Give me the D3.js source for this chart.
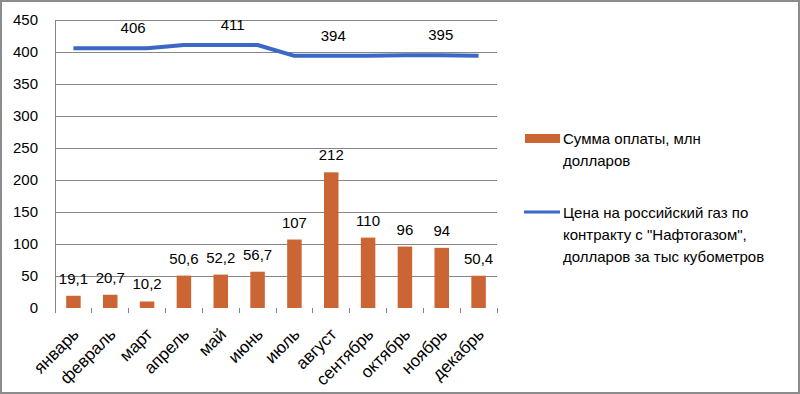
<!DOCTYPE html>
<html><head><meta charset="utf-8">
<script src="https://cdn.jsdelivr.net/npm/d3@7"></script>
<style>
html,body{margin:0;padding:0;background:#fff;}
svg text{font-family:"Liberation Sans","DejaVu Sans",sans-serif;fill:#000;}
</style></head>
<body><svg id="c" width="800" height="394"></svg>
<script>
const months = ["январь","февраль","март","апрель","май","июнь","июль","август","сентябрь","октябрь","ноябрь","декабрь"];
const payments = [19.1,20.7,10.2,50.6,52.2,56.7,107,212,110,96,94,50.4];
const paymentLabels = ["19,1","20,7","10,2","50,6","52,2","56,7","107","212","110","96","94","50,4"];
const prices = [406,406,406,411,411,411,394,394,394,395,395,394];
const priceLabelMonths = ["март","май","август","ноябрь"];
const priceLabelValues = [406,411,394,395];
const yTicks = [0,50,100,150,200,250,300,350,400,450];
const legendPay = ["Сумма оплаты, млн","долларов"];
const legendPrice = ["Цена на российский газ по","контракту с  \"Нафтогазом\",","долларов за тыс кубометров"];

(function(){
const svg = d3.select("#c");
const W=800,H=394;
svg.append("rect").attr("x",1).attr("y",1).attr("width",W-2).attr("height",H-2)
  .attr("fill","#fff").attr("stroke","#8c8c8c").attr("stroke-width",2);

const pL=55,pR=497,pT=20,pB=308;
const x = d3.scaleBand().domain(months).range([pL,pR]).paddingInner(0).paddingOuter(0);
const y = d3.scaleLinear().domain([0,450]).range([pB,pT]);

svg.append("g").selectAll("line").data(yTicks.filter(d=>d>0)).join("line")
  .attr("x1",pL).attr("x2",pR).attr("y1",d=>y(d)).attr("y2",d=>y(d))
  .attr("stroke","#868686").attr("stroke-width",1).attr("shape-rendering","crispEdges");

const ya = svg.append("g").attr("transform",`translate(${pL},0)`)
  .call(d3.axisLeft(y).tickValues(yTicks).tickSize(0).tickPadding(17).tickFormat(d3.format("d")));
ya.select(".domain").attr("stroke","#868686").attr("shape-rendering","crispEdges");
ya.selectAll("text").attr("font-size",15).attr("font-family","Liberation Sans").attr("fill","#000");

const bw = 14.5;
svg.append("g").selectAll("rect").data(payments).join("rect")
  .attr("x",(d,i)=>x(months[i])+x.bandwidth()/2-bw/2)
  .attr("width",bw)
  .attr("y",d=>y(d)).attr("height",d=>pB-y(d))
  .attr("fill","#CB6634");

// category ticks (no horizontal axis line in the original)
svg.append("g").selectAll("line").data(months.concat(["__end"])).join("line")
  .attr("x1",(d,i)=>pL+i*x.bandwidth()).attr("x2",(d,i)=>pL+i*x.bandwidth())
  .attr("y1",pB).attr("y2",pB+5).attr("stroke","#868686").attr("shape-rendering","crispEdges");
svg.append("g").selectAll("text").data(months).join("text")
  .attr("transform",d=>`translate(${x(d)+x.bandwidth()/2-2},${pB+19}) rotate(-45)`)
  .attr("text-anchor","end").attr("dy","0.7em").attr("font-size",17).text(d=>d);

svg.append("g").selectAll("text").data(payments).join("text")
  .attr("x",(d,i)=>x(months[i])+x.bandwidth()/2).attr("y",d=>y(d)-12)
  .attr("text-anchor","middle").attr("font-size",15).text((d,i)=>paymentLabels[i]);

const line = d3.line().x((d,i)=>x(months[i])+x.bandwidth()/2).y(d=>y(d));
svg.append("path").datum(prices).attr("d",line).attr("fill","none")
  .attr("stroke","#3A67C8").attr("stroke-width",4).attr("stroke-linejoin","round");

const lblDx=[-14,12,2,-1];
svg.append("g").selectAll("text").data(priceLabelValues).join("text")
  .attr("x",(d,i)=>x(priceLabelMonths[i])+x.bandwidth()/2+lblDx[i])
  .attr("y",d=>y(d)-15)
  .attr("text-anchor","middle").attr("font-size",15).text(d=>d);

const lg = svg.append("g");
lg.append("rect").attr("x",525).attr("y",134).attr("width",35).attr("height",9).attr("fill","#CB6634");
lg.selectAll("text.p").data(legendPay).join("text").attr("class","p")
  .attr("x",563).attr("y",(d,i)=>144+i*22).attr("font-size",15).text(d=>d);
lg.append("line").attr("x1",524).attr("x2",560).attr("y1",212).attr("y2",212)
  .attr("stroke","#3A67C8").attr("stroke-width",3);
lg.selectAll("text.q").data(legendPrice).join("text").attr("class","q")
  .attr("x",563).attr("y",(d,i)=>218+i*22).attr("font-size",15).text(d=>d);
})();
</script></body></html>
